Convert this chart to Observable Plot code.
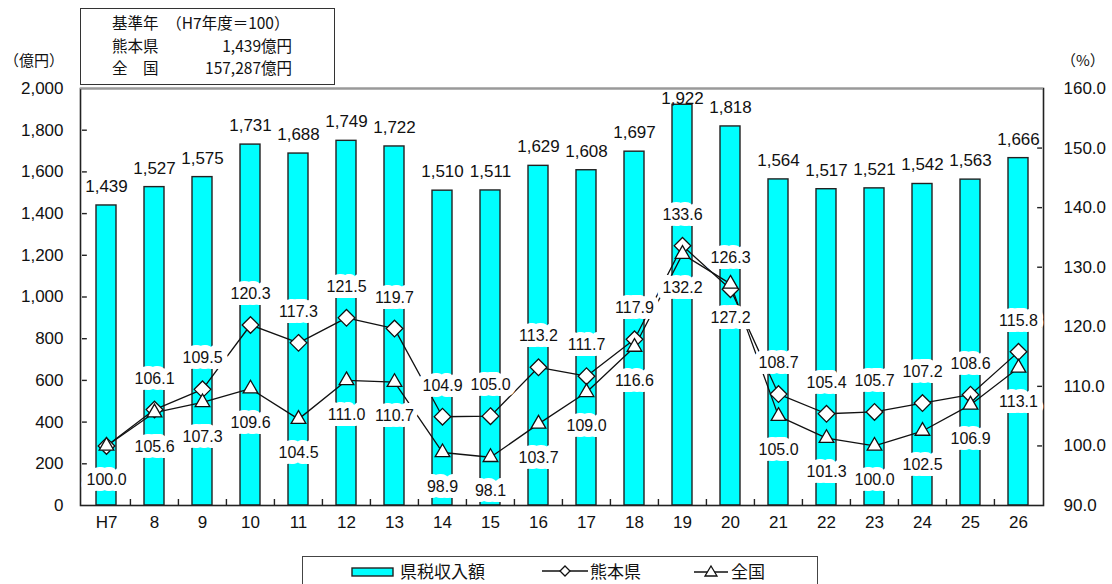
<!DOCTYPE html>
<html>
<head>
<meta charset="utf-8">
<script src="https://cdn.jsdelivr.net/npm/d3@7"></script>
<script src="https://cdn.jsdelivr.net/npm/@observablehq/plot@0.6"></script>
<style>
  body { margin: 0; background: #fff; }
  #wrap { position: relative; width: 1112px; height: 584px; overflow: hidden;
          font-family: "Noto Sans CJK JP", "Noto Sans", sans-serif; color: #111; }
  #chart { position: absolute; left: 0; top: 0; }
  .unit { position: absolute; top: 49px; font-size: 15px; line-height: 22px; }
  #base { position: absolute; left: 80px; top: 8px; width: 253px; height: 73px;
          border: 1.5px solid #333; font-size: 15.5px; line-height: 22.5px; padding-top: 2px; box-sizing: content-box; }
  #base .row { position: relative; height: 22.5px; white-space: nowrap; }
  #base .k { position: absolute; left: 31px; }
  #base .v { position: absolute; right: 42px; }
  #legend { position: absolute; left: 302px; top: 556px; width: 514px; height: 44px; border: 1.5px solid #444; }
  #legend .item { position: absolute; top: 4px; font-size: 17px; line-height: 20px; white-space: nowrap; }
  #legend svg { position: absolute; }
</style>
</head>
<body>
<div id="wrap">
  <div id="chart"></div>
  <div class="unit" style="left:4px">（億円）</div>
  <div class="unit" style="left:1061px">（%）</div>
  <div id="base">
    <div class="row"><span class="k">基準年　（H7年度＝100）</span></div>
    <div class="row"><span class="k">熊本県</span><span class="v">1,439億円</span></div>
    <div class="row"><span class="k">全　国</span><span class="v">157,287億円</span></div>
  </div>
  <div id="legend">
    <svg style="left:48px;top:9px" width="44" height="12"><rect x="1" y="2" width="41" height="8" fill="#00ffff" stroke="#222" stroke-width="1.4"/></svg>
    <div class="item" style="left:97px">県税収入額</div>
    <svg style="left:238px;top:6px" width="48" height="16"><line x1="1" y1="8" x2="47" y2="8" stroke="#111" stroke-width="1.3"/><path d="M24 3 L29 8 L24 13 L19 8 Z" fill="#fff" stroke="#111" stroke-width="1.3"/></svg>
    <div class="item" style="left:287px">熊本県</div>
    <svg style="left:390px;top:6px" width="36" height="16"><line x1="1" y1="9" x2="35" y2="9" stroke="#111" stroke-width="1.3"/><path d="M18 3 L24 13 L12 13 Z" fill="#fff" stroke="#111" stroke-width="1.3"/></svg>
    <div class="item" style="left:428px">全国</div>
  </div>
</div>
<script>
// Fiscal years (平成), prefectural tax revenue (億円) and indices (H7 = 100)
const years = ["H7","8","9","10","11","12","13","14","15","16","17","18","19","20","21","22","23","24","25","26"];
const revenue = [1439,1527,1575,1731,1688,1749,1722,1510,1511,1629,1608,1697,1922,1818,1564,1517,1521,1542,1563,1666];
const kumamotoIndex = [100.0,106.1,109.5,120.3,117.3,121.5,119.7,104.9,105.0,113.2,111.7,117.9,133.6,126.3,108.7,105.4,105.7,107.2,108.6,115.8];
const nationalIndex = [100.0,105.6,107.3,109.6,104.5,111.0,110.7,98.9,98.1,103.7,109.0,116.6,132.2,127.2,105.0,101.3,100.0,102.5,106.9,113.1];
const amountTicks = [0,200,400,600,800,1000,1200,1400,1600,1800,2000];
const indexTicks = [90,100,110,120,130,140,150,160];

const W = 1112, H = 584, ML = 80, MR = 69, MT = 88, MB = 79;
const amtMax = amountTicks[amountTicks.length - 1];
const idxMin = indexTicks[0], idxMax = indexTicks[indexTicks.length - 1];
// the index series share the amount scale: 90–160 % maps onto 0–2,000 億円
const toAmt = v => (v - idxMin) / (idxMax - idxMin) * amtMax;
const toIdx = a => idxMin + a / amtMax * (idxMax - idxMin);
const step = (W - ML - MR) / years.length;
const pxPerAmt = (H - MT - MB) / amtMax;

const rows = years.map((year, i) => ({
  year, revenue: revenue[i], kumamoto: kumamotoIndex[i], national: nationalIndex[i]
}));

const ink = "#111";
const halo = {stroke: "white", strokeWidth: 12, fill: ink, fontSize: 16};

const chart = Plot.plot({
  width: W, height: H,
  marginLeft: ML, marginRight: MR, marginTop: MT, marginBottom: MB,
  style: {fontFamily: '"Liberation Sans", Arial, sans-serif', fontSize: "16px", color: ink, background: "transparent"},
  x: {type: "band", domain: years, padding: 0},
  y: {domain: [0, amtMax]},
  marks: [
    Plot.barY(rows, {x: "year", y: "revenue", fill: "#00ffff", stroke: "#222", strokeWidth: 1.4, insetLeft: 14, insetRight: 14}),
    Plot.frame({stroke: "#222", strokeWidth: 1.6}),
    Plot.ruleY([amtMax], {stroke: "#999", strokeWidth: 1.6}),
    // inward ticks on both value axes and between categories
    Plot.tickY(amountTicks.slice(1, -1), {y: d => d, x: () => years[0], insetRight: step - 5, stroke: "#222", strokeWidth: 1.4}),
    Plot.tickY(indexTicks.slice(1, -1).map(toAmt), {y: d => d, x: () => years[years.length - 1], insetLeft: step - 5, stroke: "#222", strokeWidth: 1.4}),
    Plot.ruleX(years.slice(1), {x: d => d, y1: 0, y2: 6 / pxPerAmt, dx: -step / 2, stroke: "#222", strokeWidth: 1.4}),
    Plot.axisY(amountTicks, {anchor: "left", tickSize: 0, tickPadding: 17, tickFormat: d3.format(","), fontSize: 17, label: null}),
    Plot.axisY(indexTicks.map(toAmt), {anchor: "right", tickSize: 0, tickPadding: 20, tickFormat: a => toIdx(a).toFixed(1), fontSize: 17, label: null}),
    Plot.axisX({tickSize: 0, tickPadding: 10, fontSize: 17, label: null}),
    // index lines
    Plot.lineY(rows, {x: "year", y: d => toAmt(d.kumamoto), stroke: ink, strokeWidth: 1.3}),
    Plot.lineY(rows, {x: "year", y: d => toAmt(d.national), stroke: ink, strokeWidth: 1.3}),
    // index labels on white boxes (both series equal 100 in the base year: one label)
    Plot.text(rows.filter(d => d.year !== years[0]), {x: "year", y: d => toAmt(d.kumamoto), text: d => d.kumamoto.toFixed(1), dy: -31, ...halo}),
    Plot.text(rows, {x: "year", y: d => toAmt(d.national), text: d => d.national.toFixed(1), dy: 34, ...halo}),
    Plot.dot(rows, {x: "year", y: d => toAmt(d.kumamoto), symbol: "diamond2", r: 7.5, fill: "white", stroke: ink, strokeWidth: 1.3}),
    Plot.dot(rows, {x: "year", y: d => toAmt(d.national), symbol: "triangle2", r: 7, fill: "white", stroke: ink, strokeWidth: 1.3}),
    // revenue labels above the bars, kept below the top edge
    Plot.text(rows, {x: "year", y: d => Math.min(d.revenue + 19 / pxPerAmt, amtMax - 10 / pxPerAmt), text: d => d3.format(",")(d.revenue), fontSize: 17, fill: ink, ariaLabel: "revenue-labels"})
  ]
});

d3.select(chart).selectAll('g[aria-label="revenue-labels"] text').attr("letter-spacing", "1.5px");
document.getElementById("chart").appendChild(chart);
</script>
</body>
</html>
